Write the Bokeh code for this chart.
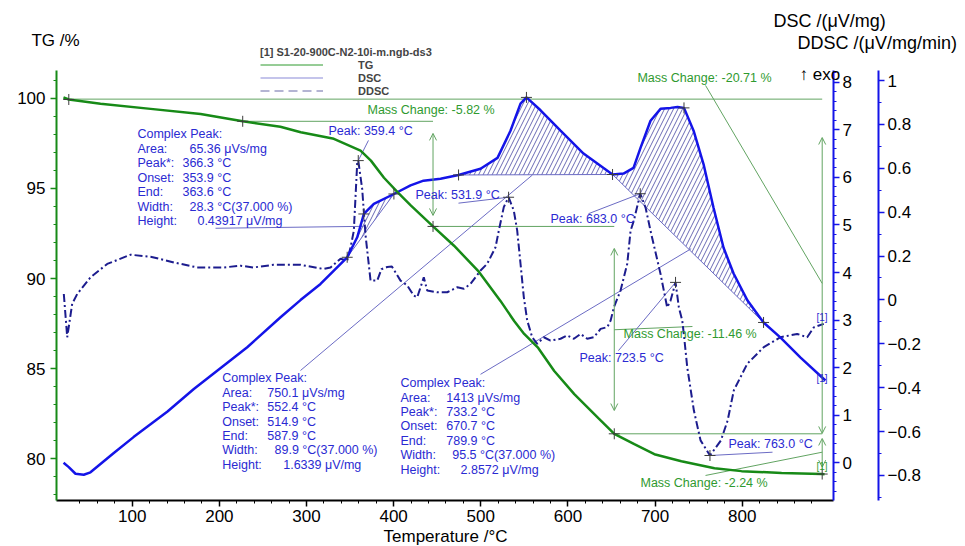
import numpy as np
from bokeh.plotting import figure
from bokeh.models import (Range1d, LinearAxis, FixedTicker, BasicTickFormatter, Label, Legend,
                          LegendItem, Arrow, OpenHead)
from bokeh.embed import file_html
from bokeh.resources import INLINE

FONT = "Liberation Sans"
GREEN = "#178a17"
BLUE = "#1414e8"
NAVY = "#1c1c8e"
TXT_BLUE = "#2a2ad2"
TXT_GREEN = "#2f9a2f"
THIN_GREEN = "#62a462"
THIN_BLUE = "#6b6bc4"
HATCH = "#6a6ab4"
CROSS = "#3c3c3c"

# ---------------- data ----------------
tg_temp = [21.1, 27.2, 63.6, 121.1, 178.5, 226.8, 270.0, 293.4, 331.4, 362.0, 373.9, 388.9, 405.0,
           419.9, 445.2, 469.3, 496.9, 522.6, 538.3, 549.8, 565.9, 584.3, 607.3, 634.9, 653.2,
           676.2, 699.2, 730.2, 768.2, 799.2, 845.2, 891.2, 894.5]
tg_pct = [100.05, 99.93, 99.69, 99.41, 99.13, 98.72, 98.42, 98.11, 97.75, 97.10, 96.54, 95.59, 94.76,
          94.04, 92.89, 91.82, 90.43, 88.76, 87.65, 86.93, 86.15, 84.87, 83.59, 82.26, 81.39,
          80.82, 80.26, 79.87, 79.48, 79.32, 79.22, 79.16, 79.15]

dsc_temp = [21.2, 27.2, 34.9, 44.4, 52.1, 78.5, 101.5, 140.5, 170.7, 232.0, 270.2, 293.1, 316.1,
            331.4, 346.7, 358.2, 365.8, 377.3, 400.3, 419.4, 434.3, 453.8, 474.5, 499.7, 519.2,
            534.1, 545.6, 552.4, 568.6, 591.5, 617.9, 651.2, 663.8, 675.3, 683.3, 694.8, 706.3,
            717.8, 725.8, 733.2, 744.2, 755.6, 767.1, 778.6, 790.1, 806.1, 824.5, 844.0, 867.0, 895.5]
dsc_val = [0.00, -0.09, -0.23, -0.25, -0.20, 0.20, 0.54, 1.08, 1.55, 2.43, 3.06, 3.42, 3.76,
           4.04, 4.32, 4.74, 5.23, 5.44, 5.65, 5.83, 5.93, 5.97, 6.05, 6.18, 6.41,
           6.98, 7.55, 7.68, 7.41, 6.98, 6.50, 6.06, 6.08, 6.20, 6.62, 7.19, 7.44,
           7.46, 7.48, 7.46, 6.98, 6.28, 5.36, 4.52, 3.98, 3.41, 2.95, 2.63, 2.21, 1.73]

ddsc_temp = [21.5, 25.4, 31.1, 36.9, 52.1, 71.3, 98.0, 121.0, 147.7, 174.6, 204.8, 224.3, 239.2,
             262.2, 293.1, 319.5, 327.6, 339.1, 346.7, 350.5, 354.3, 358.2, 359.4, 363.9, 367.7,
             373.5, 381.2, 386.0, 392.6, 398.0, 407.9, 415.6, 423.1, 427.1, 434.6, 438.5, 450.0,
             461.5, 473.0, 480.6, 488.2, 499.7, 507.4, 516.9, 520.7, 526.4, 531.9, 537.9, 541.8,
             545.6, 549.4, 553.3, 559.0, 564.8, 572.4, 580.0, 591.5, 599.2, 606.8, 614.5, 622.2,
             629.8, 637.5, 645.2, 649.0, 652.8, 660.4, 668.1, 671.9, 675.7, 683.0, 689.1, 694.8,
             706.3, 713.9, 717.8, 723.5, 727.3, 731.2, 733.0, 736.9, 744.5, 752.2, 763.0, 775.6,
             783.3, 790.4, 805.8, 824.8, 844.0, 863.1, 874.6, 882.2, 893.6]
ddsc_val = [0.027, -0.170, -0.018, 0.027, 0.103, 0.164, 0.206, 0.197, 0.171, 0.148, 0.148, 0.156, 0.148,
            0.160, 0.160, 0.141, 0.148, 0.188, 0.179, 0.239, 0.315, 0.625, 0.635, 0.506, 0.297,
            0.088, 0.088, 0.140, 0.150, 0.152, 0.088, 0.066, 0.020, 0.012, 0.103, 0.043, 0.035,
            0.035, 0.058, 0.051, 0.073, 0.134, 0.165, 0.240, 0.316, 0.423, 0.468, 0.407, 0.316,
            0.165, 0.012, -0.094, -0.170, -0.200, -0.170, -0.185, -0.177, -0.162, -0.177, -0.155, -0.177,
            -0.170, -0.132, -0.124, -0.094, -0.033, 0.043, 0.165, 0.316, 0.362, 0.484, 0.421, 0.315,
            0.118, -0.034, -0.003, 0.080, -0.034, -0.094, -0.155, -0.306, -0.503, -0.640, -0.709, -0.640,
            -0.549, -0.412, -0.291, -0.215, -0.170, -0.155, -0.170, -0.125, -0.109]

# tick labels
temp_ticks = [100, 200, 300, 400, 500, 600, 700, 800]
tg_ticks = [80, 85, 90, 95, 100]
dsc_ticks = [0, 1, 2, 3, 4, 5, 6, 7, 8]
ddsc_ticks = [-0.8, -0.6, -0.4, -0.2, 0.0, 0.2, 0.4, 0.6, 0.8, 1.0]

# evaluation temperatures (software markers)
tg_step_temp = [27.2, 226.8, 445.2, 653.2, 891.8]
dsc_mark_temp = [346.7, 365.8, 400.3, 474.5, 552.4, 651.2, 733.2, 824.5]
ddsc_peak_temp = [359.4, 531.9, 683.0, 723.5, 763.0]
peak_areas = [(346.7, 400.3), (474.5, 651.2), (651.2, 824.5)]

block_keys = ["Complex Peak:", "Area:", "Peak*:", "Onset:", "End:", "Width:", "Height:"]
block1_vals = ["65.36 μVs/mg", "366.3 °C", "353.9 °C", "363.6 °C", "28.3 °C(37.000 %)", "0.43917 μV/mg"]
block2_vals = ["750.1 μVs/mg", "552.4 °C", "514.9 °C", "587.9 °C", "89.9 °C(37.000 %)", "1.6339 μV/mg"]
block3_vals = ["1413 μVs/mg", "733.2 °C", "670.7 °C", "789.9 °C", "95.5 °C(37.000 %)", "2.8572 μV/mg"]

# ---------------- figure ----------------
T_LO, T_HI = 13.1, 904.8
TG_LO, TG_HI = 77.69, 101.54
DSC_LO, DSC_HI = -0.792, 8.246
DDSC_LO, DDSC_HI = -0.914, 1.0456

p = figure(width=965, height=546, x_range=Range1d(-51.16, 1056.25), y_range=Range1d(75.14, 105.42),
           output_backend="svg", toolbar_location=None, min_border=0)
p.extra_y_ranges = {"dsc": Range1d(-1.759, 9.717), "ddsc": Range1d(-1.1237, 1.3646)}
p.outline_line_color = None
p.xgrid.visible = False
p.ygrid.visible = False
p.background_fill_color = "white"
p.border_fill_color = "white"


def style_axis(ax, color, standoff):
    ax.axis_line_color = color
    ax.axis_line_width = 2
    ax.major_tick_line_color = color
    ax.minor_tick_line_color = color
    ax.major_tick_line_width = 1.5
    ax.minor_tick_line_width = 1
    ax.major_tick_in = 0
    ax.major_tick_out = 6
    ax.minor_tick_in = 0
    ax.minor_tick_out = 3
    ax.major_label_text_font = FONT
    ax.major_label_text_font_size = "17px"
    ax.major_label_text_color = "black"
    ax.major_label_standoff = standoff


xax = p.xaxis[0]
xax.ticker = FixedTicker(ticks=temp_ticks, minor_ticks=list(range(40, 900, 20)))
xax.fixed_location = TG_LO
xax.bounds = (T_LO, T_HI)
style_axis(xax, "black", 3)

yax = p.yaxis[0]
yax.ticker = FixedTicker(ticks=tg_ticks, minor_ticks=list(range(78, 102)))
yax.fixed_location = T_LO
yax.bounds = (TG_LO, TG_HI)
style_axis(yax, GREEN, 5)

dsc_axis = LinearAxis(y_range_name="dsc", fixed_location=T_HI, bounds=(DSC_LO, DSC_HI),
                      ticker=FixedTicker(ticks=dsc_ticks,
                                         minor_ticks=[round(-0.6 + 0.2 * i, 1) for i in range(45)]))
style_axis(dsc_axis, BLUE, 3)
ddsc_axis = LinearAxis(y_range_name="ddsc", fixed_location=956.4, bounds=(DDSC_LO, DDSC_HI),
                       ticker=FixedTicker(ticks=ddsc_ticks,
                                          minor_ticks=[round(-0.9 + 0.1 * i, 1) for i in range(20)]),
                       formatter=BasicTickFormatter(precision=1))
style_axis(ddsc_axis, BLUE, 3)
p.add_layout(dsc_axis, "right")
p.add_layout(ddsc_axis, "right")

# ---------------- hatched peak areas ----------------
for (t0, t1) in peak_areas:
    inner = [t for t in dsc_temp if t0 < t < t1]
    xs = np.array([t0] + inner + [t1])
    b0, b1 = np.interp([t0, t1], dsc_temp, dsc_val)
    base = b0 + (b1 - b0) * (xs - t0) / (t1 - t0)
    curve = np.interp(xs, dsc_temp, dsc_val)
    p.varea(x=xs, y1=base, y2=curve, y_range_name="dsc", fill_color=None, fill_alpha=0,
            hatch_pattern="/", hatch_color=HATCH, hatch_scale=9, hatch_weight=1)
    p.segment(x0=[t0], y0=[b0], x1=[t1], y1=[b1], y_range_name="dsc", line_color=THIN_BLUE, line_width=1)

# ---------------- mass-change construction lines ----------------
stT = tg_step_temp
stY = list(np.interp(stT, tg_temp, tg_pct))
p.segment(x0=[tg_temp[0], stT[1], stT[2], stT[3]],
          y0=[99.95, stY[1], stY[2], stY[3]],
          x1=[stT[4], stT[2], stT[3], stT[4]],
          y1=[99.95, stY[1], stY[2], stY[3]],
          line_color=THIN_GREEN, line_width=1)
p.segment(x0=[757.9, 653.2, 757.9], y0=[100.71, 87.16, 79.08],
          x1=[891.8, 742.9, 891.8], y1=[89.73, 87.34, 80.37],
          line_color=THIN_GREEN, line_width=1)
for (ax_, y0_, y1_) in [(445.2, 98.05, 93.50), (653.2, 91.67, 82.68),
                        (891.8, 97.82, 81.41), (891.8, 81.13, 79.54)]:
    p.add_layout(Arrow(start=OpenHead(size=7, line_color=THIN_GREEN, line_width=1),
                       end=OpenHead(size=7, line_color=THIN_GREEN, line_width=1),
                       x_start=ax_, y_start=y0_, x_end=ax_, y_end=y1_,
                       line_color=THIN_GREEN, line_width=1))

# ---------------- peak leader lines ----------------
p.segment(x0=[195.6, 293.1, 499.7], y0=[4.93, 1.94, 1.86],
          x1=[365.4, 559.3, 741.4], y1=[4.97, 6.05, 4.50],
          y_range_name="dsc", line_color=THIN_BLUE, line_width=1)
p.segment(x0=[371.1, 474.4, 623.6, 658.0, 763.0], y0=[0.727, 0.441, 0.393, -0.231, -0.709],
          x1=[359.4, 531.9, 683.0, 723.5, 834.8], y1=[0.635, 0.468, 0.484, 0.080, -0.694],
          y_range_name="ddsc", line_color=THIN_BLUE, line_width=1)

# ---------------- curves ----------------
p.line(ddsc_temp, ddsc_val, y_range_name="ddsc", line_color=NAVY, line_width=2, line_dash="8 3 2 3")
p.line(dsc_temp, dsc_val, y_range_name="dsc", line_color=BLUE, line_width=2.5)
p.line(tg_temp, tg_pct, line_color=GREEN, line_width=2.5)

# ---------------- crosses ----------------
p.scatter(stT, stY, marker="cross", size=11, line_color=CROSS, line_width=1)
p.scatter(dsc_mark_temp, list(np.interp(dsc_mark_temp, dsc_temp, dsc_val)), y_range_name="dsc",
          marker="cross", size=11, line_color=CROSS, line_width=1)
p.scatter(ddsc_peak_temp, list(np.interp(ddsc_peak_temp, ddsc_temp, ddsc_val)), y_range_name="ddsc",
          marker="cross", size=11, line_color=CROSS, line_width=1)

# ---------------- legend (thin hidden copies give the key glyphs) ----------------
lg_tg = p.line(tg_temp, tg_pct, line_color=TXT_GREEN, line_width=1, visible=False)
lg_dsc = p.line(dsc_temp, dsc_val, y_range_name="dsc", line_color="#8a8ad8", line_width=1.2, visible=False)
lg_ddsc = p.line(ddsc_temp, ddsc_val, y_range_name="ddsc", line_color="#6a6aa8", line_width=1.2,
                 line_dash="9 5", visible=False)
legend = Legend(items=[LegendItem(label="TG", renderers=[lg_tg]),
                       LegendItem(label="DSC", renderers=[lg_dsc]),
                       LegendItem(label="DDSC", renderers=[lg_ddsc])],
                title="[1] S1-20-900C-N2-10i-m.ngb-ds3", location=(260, 449),
                orientation="vertical", background_fill_alpha=0, border_line_color=None,
                glyph_width=63, glyph_height=13, label_height=13, label_standoff=35,
                padding=0, margin=0, spacing=0, title_standoff=0,
                title_text_font=FONT, title_text_font_size="11px", title_text_font_style="bold",
                label_text_font=FONT, label_text_font_size="11px", label_text_font_style="bold",
                label_text_align="right")
p.add_layout(legend, "center")


# ---------------- texts ----------------
def txt(x, y, s, color, size="12.5px", align="left", style="normal"):
    p.add_layout(Label(x=x, y=y, text=s, text_color=color, text_font=FONT, text_font_size=size,
                       text_baseline="middle", text_align=align, text_font_style=style))


PX = 0.8714  # px per degree, used only for text column offsets
for (x0, y0, vals, offs) in [(106.0, 97.99, block1_vals, [52, 45, 45, 45, 52, 60]),
                             (203.3, 84.47, block2_vals, [45, 45, 45, 45, 52.3, 61]),
                             (407.9, 84.20, block3_vals, [45.7, 45.7, 45.7, 45.7, 51.7, 60])]:
    for i, k in enumerate(block_keys):
        txt(x0, y0 - 0.8 * i, k, TXT_BLUE)
    for i, v in enumerate(vals):
        txt(x0 + offs[i] / PX, y0 - 0.8 * (i + 1), v, TXT_BLUE)

txt(325.2, 98.17, "Peak: 359.4 °C", TXT_BLUE)
txt(425.1, 94.61, "Peak: 531.9 °C", TXT_BLUE)
txt(580.0, 93.28, "Peak: 683.0 °C", TXT_BLUE)
txt(613.3, 85.62, "Peak: 723.5 °C", TXT_BLUE)
txt(784.3, 80.80, "Peak: 763.0 °C", TXT_BLUE)
txt(370.0, 99.32, "Mass Change: -5.82 %", TXT_GREEN)
txt(679.8, 101.10, "Mass Change: -20.71 %", TXT_GREEN)
txt(663.8, 86.95, "Mass Change: -11.46 %", TXT_GREEN)
txt(683.3, 78.65, "Mass Change: -2.24 %", TXT_GREEN)
txt(885.3, 87.84, "[1]", TXT_BLUE, size="10px")
txt(885.3, 84.46, "[1]", TXT_BLUE, size="10px")
txt(885.3, 79.58, "[1]", TXT_GREEN, size="10px")
txt(865.7, 101.32, "↑ exo", "black", size="17px")
txt(-15.6, 103.20, "TG /%", "black", size="17px")
txt(835.9, 104.31, "DSC /(μV/mg)", "black", size="18px")
txt(863.5, 103.09, "DDSC /(μV/mg/min)", "black", size="18px")
txt(459.5, 75.69, "Temperature /°C", "black", size="17px", align="center")

open("out.html", "w").write(file_html(p, INLINE))
